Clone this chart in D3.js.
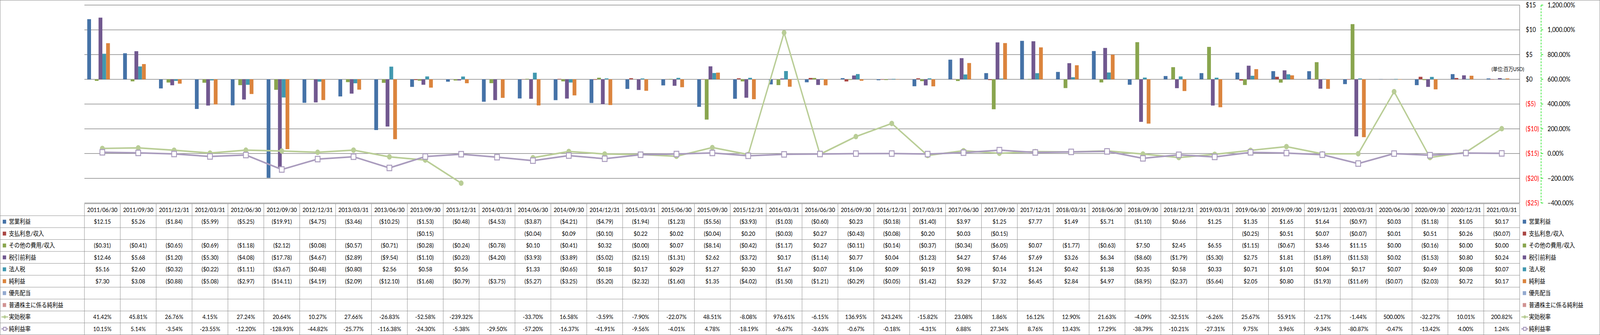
<!DOCTYPE html>
<html>
<head>
<meta charset="utf-8">
<script src="https://d3js.org/d3.v7.min.js"></script>
<style>
  html, body { margin: 0; padding: 0; overflow: hidden; background: #fff; }
  svg { display: block; width: 100vw; height: 100vh; }
  svg text { font-family: Lato, "Noto Sans CJK JP", sans-serif; font-size: 16px; fill: #000; }
</style>
</head>
<body>
<script>
// 四半期（決算日）
var dates = ["2011/06/30","2011/09/30","2011/12/31","2012/03/31","2012/06/30","2012/09/30","2012/12/31","2013/03/31",
  "2013/06/30","2013/09/30","2013/12/31","2014/03/31","2014/06/30","2014/09/30","2014/12/31","2015/03/31",
  "2015/06/30","2015/09/30","2015/12/31","2016/03/31","2016/06/30","2016/09/30","2016/12/31","2017/03/31",
  "2017/06/30","2017/09/30","2017/12/31","2018/03/31","2018/06/30","2018/09/30","2018/12/31","2019/03/31",
  "2019/06/30","2019/09/30","2019/12/31","2020/03/31","2020/06/30","2020/09/30","2020/12/31","2021/03/31"];

// 百万USD
var eigyo = [12.15,5.26,-1.84,-5.99,-5.25,-19.91,-4.75,-3.46,-10.25,-1.53,-0.48,-4.53,-3.87,-4.21,-4.79,-1.94,
  -1.23,-5.56,-3.93,-1.03,-0.60,0.23,-0.18,-1.40,3.97,1.25,7.77,1.49,5.71,-1.10,0.66,1.25,1.35,1.65,1.64,-0.97,
  0.03,-1.18,1.05,0.17];
var shiharai = [null,null,null,null,null,null,null,null,null,-0.15,null,null,-0.04,0.09,-0.10,0.22,
  0.02,-0.04,0.20,-0.03,0.27,-0.43,-0.08,0.20,0.03,-0.15,null,null,null,null,null,null,-0.25,0.51,0.07,-0.07,
  0.01,0.51,0.26,-0.07];
var sonota = [-0.31,-0.41,-0.65,-0.69,-1.18,-2.12,-0.08,-0.57,-0.71,-0.28,-0.24,-0.78,0.10,-0.41,0.32,-0.004,
  0.07,-8.14,-0.42,-1.17,0.27,-0.11,-0.14,-0.37,-0.34,-6.05,0.07,-1.77,-0.63,7.50,2.45,6.55,-1.15,-0.67,3.46,11.15,
  0.00,-0.16,0.00,0.00];
var zeibiki = [12.46,5.68,-1.20,-5.30,-4.08,-17.78,-4.67,-2.89,-9.54,-1.10,-0.23,-4.20,-3.93,-3.89,-5.02,-2.15,
  -1.31,2.62,-3.72,0.17,-1.14,0.77,0.04,-1.23,4.27,7.46,7.69,3.26,6.34,-8.60,-1.79,-5.30,2.75,1.81,-1.89,-11.53,
  0.02,-1.53,0.80,0.24];
var houjin = [5.16,2.60,-0.32,-0.22,-1.11,-3.67,-0.48,-0.80,2.56,0.58,0.56,null,1.33,-0.65,0.18,0.17,
  0.29,1.27,0.30,1.67,0.07,1.06,0.09,0.19,0.98,0.14,1.24,0.42,1.38,0.35,0.58,0.33,0.71,1.01,0.04,0.17,
  0.07,0.49,0.08,0.07];
var junrieki = [7.30,3.08,-0.88,-5.08,-2.97,-14.11,-4.19,-2.09,-12.10,-1.68,-0.79,-3.75,-5.27,-3.25,-5.20,-2.32,
  -1.60,1.35,-4.02,-1.50,-1.21,-0.29,-0.05,-1.42,3.29,7.32,6.45,2.84,4.97,-8.95,-2.37,-5.64,2.05,0.80,-1.93,-11.69,
  -0.07,-2.03,0.72,0.17];
var yusen = dates.map(function() { return null; });
var futsuu = dates.map(function() { return null; });

// %
var jikkou = [41.42,45.81,26.76,4.15,27.24,20.64,10.27,27.66,-26.83,-52.58,-239.32,null,-33.70,16.58,-3.59,-7.90,
  -22.07,48.51,-8.08,976.61,-6.15,136.95,243.24,-15.82,23.08,1.86,16.12,12.90,21.63,-4.09,-32.51,-6.26,25.67,55.91,
  -2.17,-1.44,500.00,-32.27,10.01,200.82];
var riekiritsu = [10.15,5.14,-3.54,-23.55,-12.20,-128.93,-44.82,-25.77,-116.38,-24.30,-5.38,-29.50,-57.20,-16.37,
  -41.91,-9.56,-4.01,4.78,-18.19,-6.67,-3.63,-0.67,-0.18,-4.31,6.88,27.34,8.76,13.43,17.29,-38.79,-10.21,-27.31,
  9.75,3.96,-9.34,-80.87,-0.47,-13.42,4.00,1.24];

var leftTicks = [15,10,5,0,-5,-10,-15,-20,-25];
var rightTicks = [1200,1000,800,600,400,200,0,-200,-400];

var barSeries = [
  {name:"営業利益", values:eigyo, color:"#4572A7"},
  {name:"支払利息/収入", values:shiharai, color:"#AA4643"},
  {name:"その他の費用/収入", values:sonota, color:"#89A54E"},
  {name:"税引前利益", values:zeibiki, color:"#71588F"},
  {name:"法人税", values:houjin, color:"#4198AF"},
  {name:"純利益", values:junrieki, color:"#DB843D"},
  {name:"優先配当", values:yusen, color:"#93A9CF"},
  {name:"普通株主に係る純利益", values:futsuu, color:"#D19392"}
];
var lineSeries = [
  {name:"実効税率", values:jikkou, color:"#B9CD96", marker:"circle"},
  {name:"純利益率", values:riekiritsu, color:"#A99BBD", marker:"square"}
];

var W = 4701, H = 858;
var plotL = 248, plotR = 4465, plotT = 13, plotB = 520;
var tableTop = 522, rowH = 30.5;

var svg = d3.select("body").append("svg")
  .attr("viewBox", "0 0 " + W + " " + H)
  .attr("preserveAspectRatio", "none");
svg.append("rect").attr("x", 0.5).attr("y", 0.5).attr("width", W - 1).attr("height", H - 1)
  .attr("fill", "#fff").attr("stroke", "#868686");

var x = d3.scaleBand().domain(dates).range([plotL, plotR]).paddingInner(0).paddingOuter(0);
var bw = x.bandwidth() / 9.5;
var y = d3.scaleLinear().domain([-25, 15]).range([plotB, plotT]);
var y2 = d3.scaleLinear().domain([-400, 1200]).range([plotB, plotT]);

// gridlines
svg.append("g").selectAll("line").data(leftTicks).enter().append("line")
  .attr("x1", plotL).attr("x2", plotR)
  .attr("y1", function(d) { return y(d); }).attr("y2", function(d) { return y(d); })
  .attr("stroke", "#868686").attr("stroke-width", 1.5);
svg.append("line").attr("x1", plotR).attr("x2", plotR).attr("y1", plotT).attr("y2", plotB)
  .attr("stroke", "#868686").attr("stroke-width", 1.5);

// bars
barSeries.forEach(function(s, k) {
  svg.append("g").selectAll("rect")
    .data(s.values.map(function(v, i) { return {v: v, d: dates[i]}; }).filter(function(o) { return o.v != null; }))
    .enter().append("rect")
    .attr("x", function(o) { return x(o.d) + 0.75 * bw + k * bw; })
    .attr("width", bw)
    .attr("y", function(o) { return Math.min(y(o.v), y(0)); })
    .attr("height", function(o) { return Math.abs(y(o.v) - y(0)); })
    .attr("fill", s.color);
});

// lines
function drawMarker(g, s, cx, cy, r) {
  if (s.marker == "circle") {
    g.append("circle").attr("cx", cx).attr("cy", cy).attr("r", r).attr("fill", s.color);
  } else {
    g.append("rect").attr("x", cx - r).attr("y", cy - r).attr("width", 2 * r).attr("height", 2 * r)
      .attr("fill", "#fff").attr("stroke", s.color).attr("stroke-width", 2.5);
  }
}
lineSeries.forEach(function(s) {
  var line = d3.line()
    .defined(function(v) { return v != null; })
    .x(function(v, i) { return x(dates[i]) + x.bandwidth() / 2; })
    .y(function(v) { return y2(v); });
  svg.append("path").datum(s.values).attr("d", line)
    .attr("fill", "none").attr("stroke", s.color).attr("stroke-width", 4);
  var g = svg.append("g");
  s.values.forEach(function(v, i) {
    if (v == null) return;
    drawMarker(g, s, x(dates[i]) + x.bandwidth() / 2, y2(v), 7);
  });
});

// axes on the right
var axG = svg.append("g");
axG.selectAll("text.l").data(leftTicks).enter().append("text")
  .attr("x", 4483).attr("y", function(d) { return y(d); }).attr("dy", "0.35em")
  .style("font-size", "17px")
  .style("fill", function(d) { return d < 0 ? "#FF0000" : "#000"; })
  .text(function(d) { return d < 0 ? "($" + (-d) + ")" : "$" + d; });
axG.append("line").attr("x1", 4528).attr("x2", 4528).attr("y1", plotT).attr("y2", plotB)
  .attr("stroke", "#00E000").attr("stroke-width", 1.5).attr("stroke-dasharray", "5,3");
axG.selectAll("line.t").data(rightTicks).enter().append("line")
  .attr("x1", 4528).attr("x2", 4534)
  .attr("y1", function(d) { return y2(d); }).attr("y2", function(d) { return y2(d); })
  .attr("stroke", "#00E000").attr("stroke-width", 1.5);
axG.selectAll("text.r").data(rightTicks).enter().append("text")
  .attr("x", 4547).attr("y", function(d) { return y2(d); }).attr("dy", "0.35em")
  .style("font-size", "17px")
  .text(function(d) { return d3.format(",.2f")(d) + "%"; });
svg.append("text").attr("x", 4478).attr("y", 182).attr("text-anchor", "end")
  .style("font-size", "14px").text("(単位:百万USD)");

// data table
var fmtUsd = function(v) {
  if (v == null) return "";
  var a = Math.abs(v).toFixed(2);
  return v < 0 ? "($" + a + ")" : "$" + a;
};
var fmtPct = function(v) { return v == null ? "" : v.toFixed(2) + "%"; };
var rows = barSeries.map(function(s) { return {s: s, fmt: fmtUsd, type: "bar"}; })
  .concat(lineSeries.map(function(s) { return {s: s, fmt: fmtPct, type: "line"}; }));

var tb = svg.append("g");
var nRows = rows.length + 1;
for (var r = 0; r <= nRows; r++) {
  tb.append("line").attr("x1", r == 0 ? plotL : 0).attr("x2", plotR)
    .attr("y1", tableTop + r * rowH).attr("y2", tableTop + r * rowH)
    .attr("stroke", "#868686").attr("stroke-width", 1);
}
dates.forEach(function(d, i) {
  tb.append("line").attr("x1", x(d)).attr("x2", x(d))
    .attr("y1", tableTop).attr("y2", tableTop + nRows * rowH)
    .attr("stroke", "#868686").attr("stroke-width", 1);
});
tb.append("line").attr("x1", plotR).attr("x2", plotR).attr("y1", tableTop).attr("y2", tableTop + nRows * rowH)
  .attr("stroke", "#868686");
tb.selectAll("text.d").data(dates).enter().append("text")
  .attr("x", function(d) { return x(d) + x.bandwidth() / 2; })
  .attr("y", tableTop + rowH / 2).attr("dy", "0.35em").attr("text-anchor", "middle")
  .text(function(d) { return d; });

function legendKey(g, row, kx, cy) {
  if (row.type == "bar") {
    g.append("rect").attr("x", kx).attr("y", cy - 5).attr("width", 10).attr("height", 10).attr("fill", row.s.color);
  } else {
    g.append("line").attr("x1", kx - 4).attr("x2", kx + 16).attr("y1", cy).attr("y2", cy)
      .attr("stroke", row.s.color).attr("stroke-width", 3);
    drawMarker(g, row.s, kx + 6, cy, 4);
  }
}

rows.forEach(function(row, r) {
  var cy = tableTop + (r + 1) * rowH + rowH / 2;
  legendKey(tb, row, 8, cy);
  tb.append("text").attr("x", 26).attr("y", cy).attr("dy", "0.35em").text(row.s.name);
  legendKey(tb, row, 4474, cy);
  tb.append("text").attr("x", 4492).attr("y", cy).attr("dy", "0.35em").text(row.s.name);
  row.s.values.forEach(function(v, i) {
    tb.append("text").attr("x", x(dates[i]) + x.bandwidth() / 2).attr("y", cy).attr("dy", "0.35em")
      .attr("text-anchor", "middle").text(row.fmt(v));
  });
});
</script>
</body>
</html>
